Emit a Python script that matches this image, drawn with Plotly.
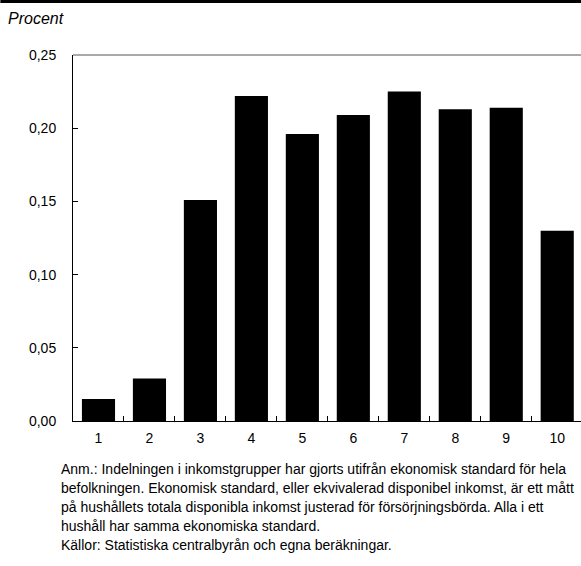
import plotly.graph_objects as go

categories = [1, 2, 3, 4, 5, 6, 7, 8, 9, 10]
values = [0.015, 0.029, 0.151, 0.222, 0.196, 0.209, 0.225, 0.213, 0.214, 0.130]
y_ticks = [0.00, 0.05, 0.10, 0.15, 0.20, 0.25]
y_labels = ["0,00", "0,05", "0,10", "0,15", "0,20", "0,25"]
x_labels = [str(c) for c in categories]
boundaries = [c + 0.5 for c in categories[:-1]]

note_lines = [
    "Anm.: Indelningen i inkomstgrupper har gjorts utifrån ekonomisk standard för hela",
    "befolkningen. Ekonomisk standard, eller ekvivalerad disponibel inkomst, är ett mått",
    "på hushållets totala disponibla inkomst justerad för försörjningsbörda. Alla i ett",
    "hushåll har samma ekonomiska standard.",
    "Källor: Statistiska centralbyrån och egna beräkningar.",
]

FONT = "Liberation Sans, Arial, sans-serif"
W, H = 581, 566
ml, mr, mt, mb = 72.7, 0, 55, 144.5
pw = W - ml - mr
ph = H - mt - mb
xr = [0.5, 0.5 + pw / 51.0]


def px_x(x):
    return (x - ml) / pw


def px_y(y):
    return (H - mb - y) / ph


fig = go.Figure()
fig.add_trace(go.Bar(x=categories, y=values, marker=dict(color="black", line=dict(width=0)),
                     xaxis="x", yaxis="y", showlegend=False, hoverinfo="skip"))
fig.add_trace(go.Scatter(x=[categories[0]], y=[0], xaxis="x2", yaxis="y", mode="markers",
                         marker=dict(opacity=0), showlegend=False, hoverinfo="skip"))

fig.update_layout(
    width=W, height=H,
    margin=dict(l=ml, r=mr, t=mt, b=mb, pad=0),
    paper_bgcolor="white", plot_bgcolor="white",
    font=dict(family=FONT, size=14, color="black"),
    bargap=0.35,
    xaxis=dict(range=xr, tickmode="array", tickvals=boundaries, ticktext=[""] * len(boundaries),
               ticks="outside", ticklen=5, tickwidth=1, tickcolor="black",
               minor=dict(tickmode="array", tickvals=boundaries, ticks="inside", ticklen=5,
                          tickwidth=1, tickcolor="black"),
               showline=True, linecolor="black", linewidth=1, showgrid=False, zeroline=False,
               fixedrange=True),
    xaxis2=dict(range=xr, overlaying="x", anchor="y", side="bottom", tickmode="array",
                tickvals=categories, ticktext=x_labels, ticks="", showline=False,
                showgrid=False, zeroline=False, ticklabelstandoff=7,
                tickfont=dict(size=14)),
    yaxis=dict(range=[0, 0.25], tickmode="array", tickvals=y_ticks, ticktext=y_labels,
               ticks="inside", ticklen=5, tickwidth=1, tickcolor="black",
               showline=True, linecolor="black", linewidth=1, showgrid=False, zeroline=False,
               ticklabelstandoff=13, tickfont=dict(size=14)),
)

# top border line and top black strip
fig.add_shape(type="line", xref="paper", yref="paper", x0=0, x1=1, y0=1, y1=1,
              line=dict(color="#555555", width=1))
fig.add_shape(type="rect", xref="paper", yref="paper", x0=px_x(0), x1=1,
              y0=px_y(3), y1=px_y(-2), fillcolor="black", line=dict(width=0))

fig.add_annotation(text="<i>Procent</i>", xref="paper", yref="paper",
                   x=px_x(6), y=px_y(18), xanchor="left", yanchor="middle",
                   showarrow=False, font=dict(size=16))
for i, line in enumerate(note_lines):
    fig.add_annotation(text=line, xref="paper", yref="paper",
                       x=px_x(59), y=px_y(470 + i * 18.8), xanchor="left", yanchor="middle",
                       align="left", showarrow=False, font=dict(size=14))

fig.write_html("out.html", config={"displayModeBar": False},
               post_script="document.body.style.margin='0';document.body.style.overflow='hidden';")
